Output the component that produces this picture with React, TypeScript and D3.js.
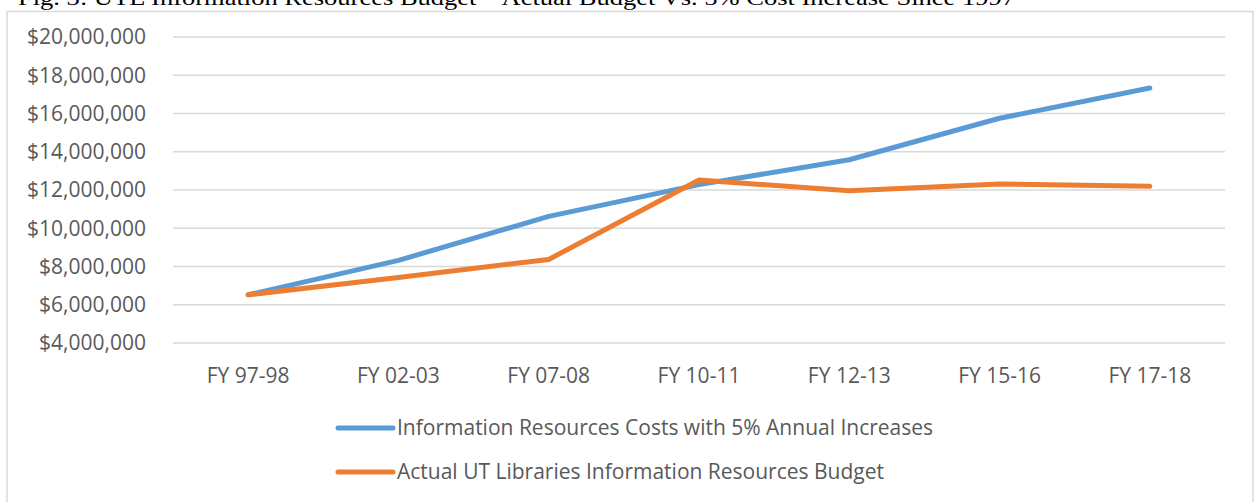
import React from "react";
import * as d3 from "d3";

const W = 1256;
const H = 502;

const categories = ["FY 97-98", "FY 02-03", "FY 07-08", "FY 10-11", "FY 12-13", "FY 15-16", "FY 17-18"];
const costsWith5pct = [6520000, 8320000, 10620000, 12280000, 13580000, 15750000, 17330000];
const actualBudget = [6520000, 7420000, 8370000, 12520000, 11960000, 12320000, 12190000];
const yTicks = [4000000, 6000000, 8000000, 10000000, 12000000, 14000000, 16000000, 18000000, 20000000];
const seriesNames = [
  "Information Resources Costs with 5% Annual Increases",
  "Actual UT Libraries Information Resources Budget",
];
const seriesColors = ["#5B9BD5", "#ED7D31"];
const titleText = "Fig. 3: UTL Information Resources Budget \u2013 Actual Budget Vs. 5% Cost Increase Since 1997";

const FONT = "'Open Sans', sans-serif";
const TEXT = "#595959";

export default function App() {
  const x = d3.scalePoint<string>().domain(categories).range([173, 1225]).padding(0.5);
  const y = d3.scaleLinear().domain([4000000, 20000000]).range([343, 37]);
  const fmt = (v: number) => "$" + d3.format(",")(v);

  const line = d3
    .line<number>()
    .x((_, i) => x(categories[i]) as number)
    .y((d) => y(d));

  const series = [costsWith5pct, actualBudget];

  return (
    <div style={{ position: "absolute", left: 0, top: 0 }}>
      <svg width={W} height={H} style={{ display: "block", background: "#fff" }}>
        {/* title cut off at the top */}
        <text x={18} y={5} fontFamily="'Liberation Serif', serif" fontSize={22} textLength={997} lengthAdjust="spacingAndGlyphs" fill="#000">
          {titleText}
        </text>
        <rect x={7} y={11.5} width={1246} height={H} fill="#fff" stroke="#d9d9d9" strokeWidth={1.5} />

        {/* gridlines */}
        {yTicks.map((t) => (
          <g key={t}>
            <line x1={173} x2={1225} y1={y(t)} y2={y(t)} stroke="#d9d9d9" strokeWidth={1.5} />
            <text x={146} y={y(t)} dy="0.35em" textAnchor="end" fontFamily={FONT} fontSize={21} fill={TEXT}>
              {fmt(t)}
            </text>
          </g>
        ))}

        {/* category labels */}
        {categories.map((c) => (
          <text key={c} x={x(c)} y={383} textAnchor="middle" fontFamily={FONT} fontSize={21} fill={TEXT}>
            {c}
          </text>
        ))}

        {/* lines */}
        {series.map((s, i) => (
          <path key={i} d={line(s) || ""} fill="none" stroke={seriesColors[i]} strokeWidth={5} strokeLinecap="round" strokeLinejoin="round" />
        ))}

        {/* legend */}
        {seriesNames.map((n, i) => {
          const ly = 428 + i * 44;
          return (
            <g key={n}>
              <line x1={338} x2={393} y1={ly} y2={ly} stroke={seriesColors[i]} strokeWidth={5} strokeLinecap="round" />
              <text x={397} y={ly} dy="0.35em" fontFamily={FONT} fontSize={21} fill={TEXT}>
                {n}
              </text>
            </g>
          );
        })}
      </svg>
    </div>
  );
}
